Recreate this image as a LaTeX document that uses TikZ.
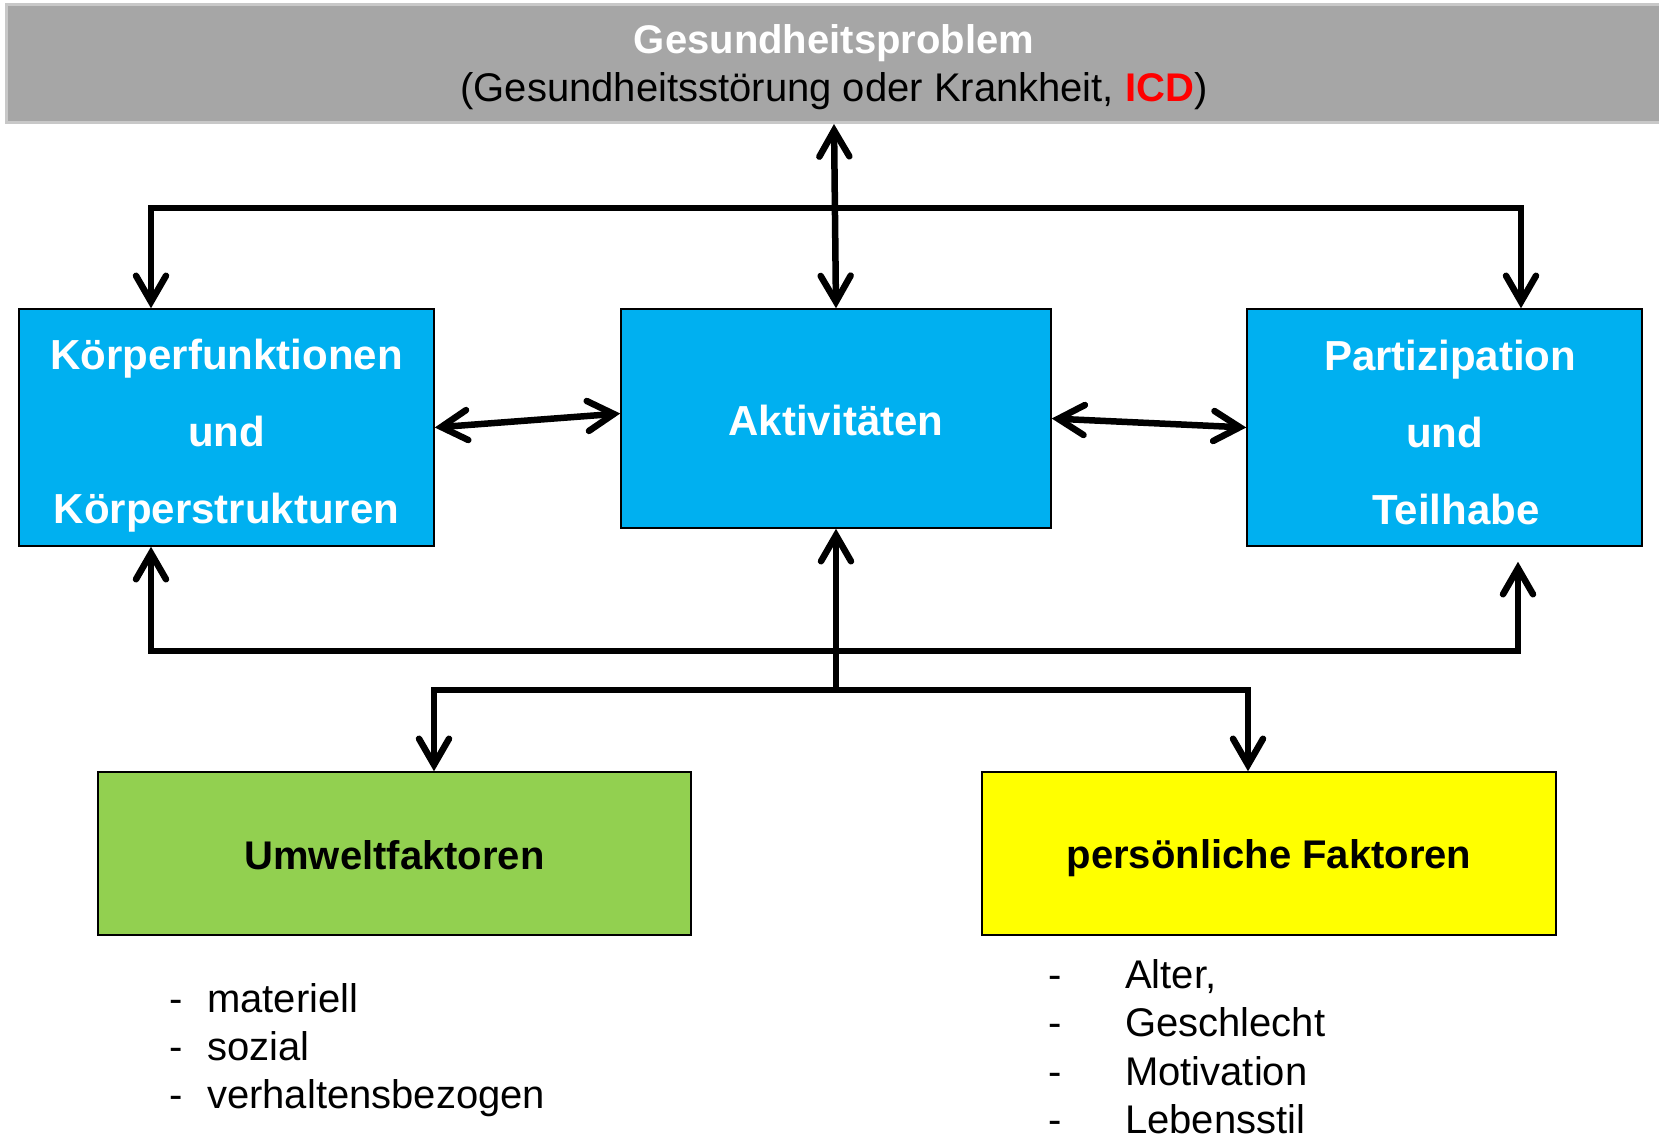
\documentclass[tikz,border=0pt]{standalone}
\usepackage{fontspec}
\setmainfont{Liberation Sans}
\usetikzlibrary{arrows.meta}
\definecolor{gpgray}{HTML}{A6A6A6}
\definecolor{gpline}{HTML}{C8C8C8}
\definecolor{icfblue}{HTML}{00B0F0}
\definecolor{icfgreen}{HTML}{92D050}
\definecolor{icfyellow}{HTML}{FFFF00}
\definecolor{icdred}{HTML}{FF0000}
\begin{document}
\begin{tikzpicture}[x=1pt, y=-1pt,
    box/.style={draw=black, line width=1.5pt, inner sep=0pt},
    bluebox/.style={box, fill=icfblue},
    bluetext/.style={inner sep=0pt, align=center, text=white, font=\bfseries\fontsize{42}{77}\selectfont},
    factbox/.style={box, minimum width=#1, minimum height=163pt},
    facttext/.style={inner sep=0pt, font=\bfseries\fontsize{40}{48}\selectfont},
    conn/.style={line width=6.5pt, >={Straight Barb[length=26pt,width=30pt,line cap=round]}},
    item/.style={anchor=base west, inner sep=0pt, font=\fontsize{40}{48}\selectfont}]
    \useasboundingbox (0,0) rectangle (1659,1133);
    % health problem
    \node[draw=gpline, line width=3pt, fill=gpgray, minimum width=1656pt, minimum height=118pt] (gp) at (834,63.5) {};
    \node[inner sep=0pt, align=center, font=\fontsize{40}{48}\selectfont] (gpt) at ([yshift=-4pt]gp.center)
        {\textcolor{white}{\textbf{Gesundheitsproblem}}\\(Gesundheitsstörung oder Krankheit, \textcolor{icdred}{\textbf{ICD}})};
    % components
    \node[bluebox, minimum width=415pt, minimum height=237pt] (kf) at (226.5,427.5) {};
    \node[bluetext] (kft) at ([yshift=-8.5pt]kf.center) {Körperfunktionen\\und\\Körperstrukturen};
    \node[bluebox, minimum width=430pt, minimum height=219pt] (akt) at (836,418.5) {};
    \node[bluetext] (aktt) at ([yshift=-2pt]akt.center) {Aktivitäten};
    \node[bluebox, minimum width=395pt, minimum height=237pt] (part) at (1444.5,427.5) {};
    \node[bluetext] (partt) at ([yshift=-4.5pt]part.center) {\hspace*{11pt}Partizipation\\und\\\hspace*{23pt}Teilhabe};
    % context factors
    \node[factbox=593pt, fill=icfgreen] (umw) at (394.5,853.5) {};
    \node[facttext] (umwt) at ([yshift=-2pt]umw.center) {Umweltfaktoren};
    \node[factbox=574pt, fill=icfyellow] (pers) at (1269,853.5) {};
    \node[facttext] (perst) at ([yshift=-5pt]pers.center) {persönliche Faktoren};
    % bus corners
    \coordinate (tl) at (151,208); \coordinate (tr) at (1521,208);
    \coordinate (bl) at (151,651); \coordinate (br) at (1518,651);
    \coordinate (ll) at (434,690); \coordinate (lr) at (1248,690);
    \draw[conn, <->] (gp.south) -- (akt.north);
    \draw[conn, <->] (tl |- kf.north) -- (tl) -- (tr) -- (tr |- part.north);
    \draw[conn, <->] (kf.east) -- ([yshift=5pt]akt.west);
    \draw[conn, <->] (akt.east) -- (part.west);
    \draw[conn, <->, shorten >=15pt] (bl |- kf.south) -- (bl) -- (br) -- (br |- part.south);
    \draw[conn, ->] (akt.south |- ll) -- (akt.south);
    \draw[conn, <->] (ll |- umw.north) -- (ll) -- (lr) -- (lr |- pers.north);
    % lists
    \foreach \txt [count=\i from 0] in {materiell, sozial, verhaltensbezogen}
        \node[item] (env\i) at (169, 1012+48*\i) {\makebox[38pt][l]{-}\txt};
    \foreach \txt [count=\i from 0] in {{Alter,}, Geschlecht, Motivation, Lebensstil}
        \node[item] (pf\i) at (1048, 988+48.5*\i) {\makebox[77pt][l]{-}\txt};
\end{tikzpicture}
\end{document}
